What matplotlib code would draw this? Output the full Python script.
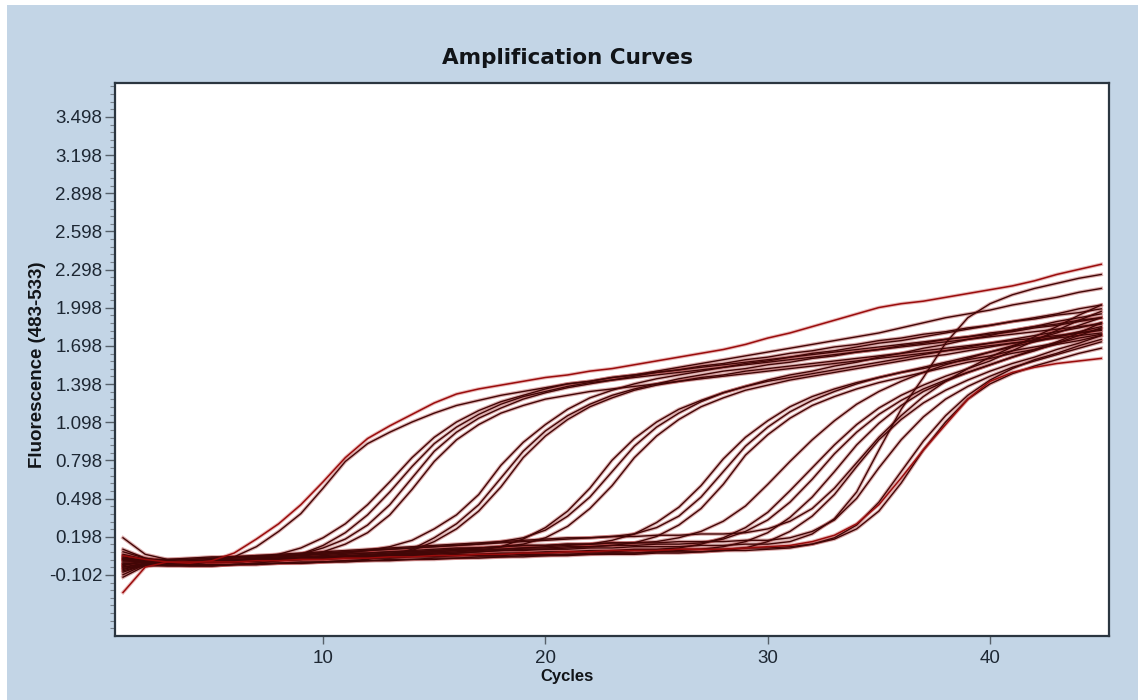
import matplotlib
matplotlib.use("Agg")
import matplotlib.pyplot as plt
import numpy as np
from matplotlib.patches import Rectangle

# PCR cycle numbers
cycles = list(range(1, 46))

# Fluorescence (483-533) per sample, one value per cycle
curve_a1 = [0.05, 0.02, 0.00, -0.01, 0.01, 0.07, 0.18, 0.30, 0.45, 0.63,
            0.82, 0.97, 1.07, 1.16, 1.25, 1.32, 1.36, 1.39, 1.42, 1.45,
            1.47, 1.50, 1.52, 1.55, 1.58, 1.61, 1.64, 1.67, 1.71, 1.76,
            1.80, 1.85, 1.90, 1.95, 2.00, 2.03, 2.05, 2.08, 2.11, 2.14,
            2.17, 2.21, 2.26, 2.30, 2.34]
curve_a2 = [-0.03, 0.01, 0.00, -0.01, 0.00, 0.04, 0.12, 0.24, 0.38, 0.58,
            0.79, 0.93, 1.02, 1.10, 1.17, 1.23, 1.27, 1.31, 1.34, 1.37,
            1.40, 1.42, 1.45, 1.47, 1.49, 1.51, 1.53, 1.55, 1.57, 1.59,
            1.61, 1.63, 1.65, 1.67, 1.69, 1.71, 1.73, 1.75, 1.77, 1.79,
            1.81, 1.84, 1.86, 1.89, 1.92]
curve_b1 = [0.08, 0.03, 0.00, -0.01, 0.00, 0.01, 0.03, 0.06, 0.11, 0.19,
            0.30, 0.45, 0.63, 0.82, 0.98, 1.10, 1.19, 1.26, 1.31, 1.36,
            1.40, 1.42, 1.45, 1.47, 1.50, 1.53, 1.56, 1.59, 1.62, 1.65,
            1.68, 1.71, 1.74, 1.77, 1.80, 1.84, 1.88, 1.92, 1.95, 1.98,
            2.02, 2.05, 2.08, 2.12, 2.15]
curve_b2 = [-0.05, -0.03, -0.03, -0.03, -0.03, -0.02, -0.01, 0.01, 0.06, 0.13,
            0.23, 0.37, 0.55, 0.75, 0.93, 1.06, 1.16, 1.24, 1.30, 1.34,
            1.38, 1.41, 1.43, 1.45, 1.47, 1.49, 1.51, 1.53, 1.55, 1.57,
            1.59, 1.61, 1.63, 1.65, 1.67, 1.69, 1.71, 1.73, 1.75, 1.77,
            1.79, 1.81, 1.83, 1.85, 1.87]
curve_b3 = [0.02, 0.00, -0.01, 0.00, 0.01, 0.01, 0.02, 0.03, 0.06, 0.11,
            0.18, 0.29, 0.45, 0.66, 0.87, 1.02, 1.13, 1.21, 1.28, 1.33,
            1.37, 1.40, 1.43, 1.46, 1.49, 1.51, 1.54, 1.56, 1.59, 1.61,
            1.64, 1.66, 1.69, 1.71, 1.74, 1.76, 1.79, 1.81, 1.84, 1.86,
            1.89, 1.91, 1.94, 1.96, 1.99]
curve_b4 = [-0.07, -0.02, 0.00, -0.01, 0.00, 0.00, 0.01, 0.02, 0.04, 0.08,
            0.14, 0.23, 0.37, 0.57, 0.79, 0.96, 1.08, 1.17, 1.23, 1.28,
            1.31, 1.34, 1.36, 1.38, 1.40, 1.42, 1.44, 1.46, 1.48, 1.50,
            1.52, 1.54, 1.56, 1.58, 1.60, 1.62, 1.64, 1.66, 1.68, 1.70,
            1.72, 1.74, 1.76, 1.78, 1.80]
curve_c1 = [0.03, 0.01, 0.00, 0.00, 0.01, 0.02, 0.03, 0.04, 0.05, 0.06,
            0.07, 0.09, 0.12, 0.17, 0.26, 0.37, 0.53, 0.76, 0.94, 1.08,
            1.20, 1.29, 1.35, 1.40, 1.44, 1.47, 1.50, 1.53, 1.56, 1.58,
            1.61, 1.64, 1.66, 1.69, 1.72, 1.74, 1.77, 1.80, 1.83, 1.86,
            1.89, 1.92, 1.95, 1.99, 2.02]
curve_c2 = [-0.02, 0.00, -0.02, -0.03, -0.03, -0.02, -0.02, -0.01, -0.01, 0.00,
            0.01, 0.02, 0.05, 0.10, 0.19, 0.30, 0.45, 0.66, 0.87, 1.03,
            1.15, 1.24, 1.31, 1.36, 1.40, 1.44, 1.47, 1.50, 1.52, 1.55,
            1.57, 1.60, 1.62, 1.65, 1.67, 1.70, 1.72, 1.75, 1.77, 1.80,
            1.82, 1.85, 1.87, 1.90, 1.92]
curve_c3 = [0.01, 0.00, -0.01, 0.00, 0.00, 0.01, 0.01, 0.02, 0.03, 0.03,
            0.04, 0.05, 0.06, 0.09, 0.16, 0.26, 0.40, 0.59, 0.82, 0.99,
            1.12, 1.22, 1.29, 1.35, 1.39, 1.42, 1.45, 1.47, 1.50, 1.52,
            1.54, 1.56, 1.58, 1.60, 1.62, 1.64, 1.66, 1.68, 1.70, 1.72,
            1.74, 1.76, 1.78, 1.80, 1.82]
curve_d1 = [-0.04, -0.01, 0.00, 0.00, 0.00, 0.01, 0.01, 0.02, 0.03, 0.03,
            0.04, 0.05, 0.05, 0.06, 0.07, 0.08, 0.09, 0.12, 0.18, 0.27,
            0.40, 0.58, 0.80, 0.97, 1.10, 1.20, 1.27, 1.33, 1.38, 1.42,
            1.45, 1.48, 1.51, 1.54, 1.57, 1.60, 1.63, 1.66, 1.69, 1.72,
            1.75, 1.78, 1.81, 1.84, 1.88]
curve_d2 = [0.06, 0.02, 0.01, 0.02, 0.03, 0.04, 0.04, 0.05, 0.06, 0.07,
            0.08, 0.09, 0.10, 0.11, 0.12, 0.13, 0.14, 0.16, 0.19, 0.25,
            0.36, 0.51, 0.71, 0.91, 1.06, 1.17, 1.26, 1.33, 1.38, 1.43,
            1.47, 1.50, 1.54, 1.57, 1.61, 1.64, 1.68, 1.71, 1.75, 1.78,
            1.82, 1.85, 1.89, 1.92, 1.95]
curve_d3 = [0.00, 0.00, -0.01, 0.00, 0.00, 0.01, 0.02, 0.03, 0.03, 0.04,
            0.05, 0.06, 0.07, 0.08, 0.09, 0.10, 0.11, 0.12, 0.14, 0.19,
            0.28, 0.42, 0.60, 0.82, 0.99, 1.12, 1.22, 1.29, 1.35, 1.39,
            1.43, 1.46, 1.49, 1.52, 1.55, 1.58, 1.61, 1.63, 1.66, 1.69,
            1.72, 1.74, 1.77, 1.80, 1.83]
curve_e1 = [-0.10, -0.02, 0.00, 0.00, 0.00, 0.01, 0.01, 0.02, 0.03, 0.04,
            0.04, 0.05, 0.06, 0.07, 0.08, 0.09, 0.10, 0.10, 0.11, 0.12,
            0.13, 0.14, 0.17, 0.22, 0.31, 0.43, 0.60, 0.81, 0.98, 1.11,
            1.22, 1.30, 1.36, 1.41, 1.45, 1.49, 1.52, 1.56, 1.59, 1.62,
            1.66, 1.69, 1.72, 1.76, 1.79]
curve_e2 = [0.04, 0.01, 0.00, 0.01, 0.02, 0.03, 0.04, 0.05, 0.06, 0.07,
            0.08, 0.09, 0.10, 0.11, 0.12, 0.13, 0.14, 0.15, 0.16, 0.17,
            0.18, 0.19, 0.20, 0.22, 0.27, 0.36, 0.51, 0.71, 0.91, 1.06,
            1.18, 1.27, 1.34, 1.40, 1.45, 1.49, 1.53, 1.57, 1.61, 1.65,
            1.69, 1.73, 1.77, 1.81, 1.85]
curve_e3 = [-0.02, 0.00, 0.00, -0.01, 0.00, 0.00, 0.01, 0.02, 0.02, 0.03,
            0.04, 0.04, 0.05, 0.06, 0.06, 0.07, 0.08, 0.09, 0.10, 0.10,
            0.11, 0.12, 0.13, 0.15, 0.20, 0.29, 0.42, 0.61, 0.84, 1.00,
            1.13, 1.23, 1.30, 1.36, 1.41, 1.45, 1.49, 1.53, 1.57, 1.60,
            1.64, 1.67, 1.71, 1.74, 1.78]
curve_f1 = [0.10, 0.03, 0.00, 0.00, 0.01, 0.02, 0.02, 0.03, 0.04, 0.05,
            0.06, 0.07, 0.08, 0.09, 0.10, 0.11, 0.11, 0.12, 0.13, 0.13,
            0.14, 0.14, 0.15, 0.15, 0.16, 0.19, 0.24, 0.32, 0.44, 0.61,
            0.79, 0.96, 1.11, 1.24, 1.34, 1.42, 1.49, 1.55, 1.60, 1.65,
            1.70, 1.75, 1.80, 1.86, 1.92]
curve_f2 = [-0.06, -0.01, 0.00, 0.00, 0.00, 0.01, 0.01, 0.02, 0.02, 0.03,
            0.03, 0.04, 0.04, 0.05, 0.05, 0.06, 0.06, 0.07, 0.07, 0.08,
            0.08, 0.09, 0.09, 0.10, 0.10, 0.11, 0.14, 0.19, 0.27, 0.39,
            0.56, 0.74, 0.92, 1.08, 1.21, 1.31, 1.39, 1.46, 1.52, 1.58,
            1.66, 1.74, 1.82, 1.90, 1.97]
curve_f3 = [0.03, 0.01, 0.00, 0.00, 0.00, 0.01, 0.02, 0.02, 0.03, 0.04,
            0.05, 0.05, 0.06, 0.07, 0.08, 0.09, 0.09, 0.10, 0.11, 0.11,
            0.12, 0.12, 0.13, 0.13, 0.14, 0.14, 0.15, 0.18, 0.24, 0.33,
            0.47, 0.65, 0.85, 1.02, 1.16, 1.27, 1.36, 1.43, 1.49, 1.55,
            1.61, 1.67, 1.73, 1.80, 1.88]
curve_f4 = [-0.04, -0.02, -0.02, -0.02, -0.02, -0.02, -0.01, -0.01, 0.00, 0.00,
            0.01, 0.01, 0.02, 0.02, 0.03, 0.03, 0.04, 0.04, 0.05, 0.05,
            0.06, 0.06, 0.07, 0.07, 0.08, 0.09, 0.10, 0.12, 0.16, 0.23,
            0.35, 0.51, 0.71, 0.92, 1.09, 1.23, 1.34, 1.42, 1.49, 1.55,
            1.61, 1.66, 1.72, 1.78, 1.84]
curve_f5 = [0.19, 0.06, 0.02, 0.02, 0.03, 0.04, 0.05, 0.06, 0.07, 0.08,
            0.09, 0.10, 0.11, 0.12, 0.13, 0.14, 0.15, 0.16, 0.17, 0.18,
            0.19, 0.19, 0.20, 0.20, 0.21, 0.21, 0.22, 0.22, 0.23, 0.26,
            0.32, 0.42, 0.58, 0.78, 0.98, 1.15, 1.30, 1.42, 1.52, 1.61,
            1.69, 1.77, 1.85, 1.94, 2.02]
curve_f6 = [-0.01, -0.02, -0.03, -0.03, -0.03, -0.02, -0.02, -0.01, -0.01, 0.00,
            0.00, 0.01, 0.01, 0.02, 0.02, 0.03, 0.03, 0.04, 0.04, 0.05,
            0.05, 0.06, 0.06, 0.06, 0.07, 0.07, 0.08, 0.09, 0.11, 0.16,
            0.24, 0.36, 0.53, 0.75, 0.96, 1.12, 1.25, 1.35, 1.43, 1.50,
            1.56, 1.61, 1.67, 1.72, 1.78]
curve_f7 = [-0.12, -0.03, 0.00, 0.00, 0.00, 0.01, 0.01, 0.02, 0.03, 0.03,
            0.04, 0.05, 0.05, 0.06, 0.07, 0.07, 0.08, 0.09, 0.09, 0.10,
            0.10, 0.11, 0.11, 0.12, 0.12, 0.12, 0.13, 0.13, 0.14, 0.14,
            0.16, 0.22, 0.34, 0.55, 0.88, 1.20, 1.45, 1.72, 1.92, 2.03,
            2.10, 2.15, 2.19, 2.23, 2.26]
curve_f8 = [0.05, 0.02, 0.02, 0.03, 0.04, 0.04, 0.05, 0.05, 0.06, 0.06,
            0.07, 0.07, 0.08, 0.08, 0.09, 0.10, 0.11, 0.12, 0.13, 0.13,
            0.14, 0.14, 0.15, 0.15, 0.15, 0.16, 0.16, 0.16, 0.17, 0.17,
            0.19, 0.24, 0.33, 0.50, 0.74, 0.96, 1.14, 1.28, 1.38, 1.46,
            1.53, 1.58, 1.63, 1.68, 1.73]
curve_g1 = [-0.08, -0.02, 0.00, 0.00, 0.00, 0.00, 0.01, 0.01, 0.02, 0.02,
            0.03, 0.03, 0.03, 0.04, 0.04, 0.05, 0.05, 0.05, 0.06, 0.06,
            0.06, 0.07, 0.07, 0.07, 0.08, 0.08, 0.08, 0.09, 0.09, 0.10,
            0.11, 0.14, 0.19, 0.29, 0.47, 0.71, 0.95, 1.15, 1.31, 1.43,
            1.52, 1.59, 1.64, 1.70, 1.75]
curve_g2 = [0.02, 0.01, 0.00, 0.00, 0.00, 0.01, 0.01, 0.02, 0.02, 0.03,
            0.03, 0.04, 0.04, 0.05, 0.05, 0.05, 0.06, 0.06, 0.07, 0.07,
            0.08, 0.08, 0.08, 0.09, 0.09, 0.10, 0.10, 0.10, 0.11, 0.11,
            0.12, 0.14, 0.18, 0.26, 0.40, 0.62, 0.88, 1.10, 1.28, 1.40,
            1.48, 1.54, 1.59, 1.64, 1.68]
curve_g3 = [-0.24, -0.04, 0.00, 0.00, 0.00, 0.00, 0.01, 0.01, 0.02, 0.02,
            0.03, 0.03, 0.04, 0.04, 0.05, 0.05, 0.06, 0.06, 0.07, 0.07,
            0.08, 0.08, 0.09, 0.09, 0.09, 0.10, 0.10, 0.10, 0.11, 0.12,
            0.13, 0.16, 0.21, 0.30, 0.45, 0.66, 0.88, 1.08, 1.28, 1.42,
            1.49, 1.53, 1.56, 1.58, 1.60]

dark_curves = [curve_a2, curve_b1, curve_b2, curve_b3, curve_b4,
               curve_c1, curve_c2, curve_c3, curve_d1, curve_d2, curve_d3,
               curve_e1, curve_e2, curve_e3, curve_f1, curve_f2, curve_f3,
               curve_f4, curve_f5, curve_f6, curve_f7, curve_f8,
               curve_g1, curve_g2]
red_curves = [curve_a1, curve_g3]

y_ticks = [-0.102, 0.198, 0.498, 0.798, 1.098, 1.398, 1.698, 1.998,
           2.298, 2.598, 2.898, 3.198, 3.498]
x_ticks = [10, 20, 30, 40]

BG = "#c3d5e6"
W, H = 1138, 700

fig = plt.figure(figsize=(W / 100, H / 100), dpi=100, facecolor="white")
fig.patches.append(Rectangle((7 / W, 0), 1 - 7 / W, 1 - 5 / H,
                             transform=fig.transFigure, facecolor=BG,
                             edgecolor="none", zorder=-10))

ax = fig.add_axes([115 / W, 64 / H, (1109 - 115) / W, (636 - 83) / H])
ax.set_zorder(5)
ax.set_facecolor("white")

# each trace: soft dark-red rim under a maroon core
for vals in dark_curves:
    ax.plot(cycles, vals, color="#9c1a1a", lw=2.6, alpha=0.35,
            solid_joinstyle="round", zorder=2)
    ax.plot(cycles, vals, color="#420606", lw=1.0, zorder=3)
for vals in red_curves:
    ax.plot(cycles, vals, color="#c43a3a", lw=2.6, alpha=0.35,
            solid_joinstyle="round", zorder=2)
    ax.plot(cycles, vals, color="#9a0c0c", lw=1.1, zorder=4)

ax.set_xlim(0.64, 45.35)
ax.set_ylim(-0.582, 3.765)

ax.set_xticks(x_ticks)
ax.set_xticklabels([str(v) for v in x_ticks])
ax.set_yticks(y_ticks)
ax.set_yticklabels(["{:.3f}".format(v) for v in y_ticks])
ax.set_yticks(np.arange(-0.522, 3.76, 0.06), minor=True)

for lab in ax.get_xticklabels() + ax.get_yticklabels():
    lab.set_fontfamily("Liberation Sans")
    lab.set_fontsize(13.5)
    lab.set_color("#1d2733")

ax.tick_params(axis="y", which="major", direction="out", length=7,
               width=1.0, color="#56606a", pad=2)
ax.tick_params(axis="y", which="minor", direction="out", length=3.5,
               width=0.8, color="#7a848e")
ax.tick_params(axis="x", which="major", direction="out", length=6,
               width=1.0, color="#56606a", pad=4)

for sp in ax.spines.values():
    sp.set_color("#2b3640")
    sp.set_linewidth(1.6)

fig.text(567 / W, 1 - 58 / H, "Amplification Curves", ha="center",
         va="center", fontsize=15.5, fontweight="bold",
         family="DejaVu Sans", color="#111418")
fig.text(38 / W, 1 - 365 / H, "Fluorescence (483-533)", ha="center",
         va="center", rotation=90, fontsize=13.5, fontweight="bold",
         family="Liberation Sans", color="#111418")
fig.text(567 / W, 1 - 676 / H, "Cycles", ha="center", va="center",
         fontsize=12, fontweight="bold", family="Liberation Sans",
         color="#111418")

fig.savefig("out.png", dpi=100, facecolor="white")
